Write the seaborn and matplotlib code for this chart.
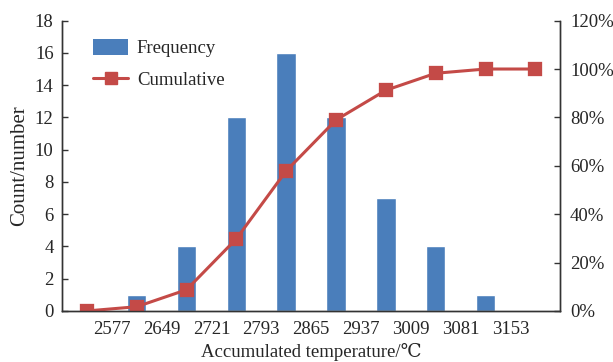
import matplotlib
matplotlib.use("Agg")
import matplotlib.pyplot as plt
import seaborn as sns
import pandas as pd
from matplotlib.patches import Patch
from matplotlib.lines import Line2D
from matplotlib.ticker import FuncFormatter

# ---- data ----
bins = ["<2577", "2577-2649", "2649-2721", "2721-2793", "2793-2865",
        "2865-2937", "2937-3009", "3009-3081", "3081-3153", ">3153"]
counts = [0, 1, 4, 12, 16, 12, 7, 4, 1, 0]
cumulative = [0.0, 1.75, 8.77, 29.82, 57.89, 78.95, 91.23, 98.25, 100.0, 100.0]
tick_labels = ["2577", "2649", "2721", "2793", "2865", "2937", "3009", "3081", "3153"]

df = pd.DataFrame({"bin": bins, "count": counts, "cum": cumulative})

bar_color = "#4a7ebb"
line_color = "#c44a47"

sns.set_style("white")
plt.rcParams["font.family"] = ["Liberation Serif", "DejaVu Serif"]
FS = 13.5
plt.rcParams["font.size"] = FS

fig = plt.figure(figsize=(6.13, 3.62), dpi=100)
ax = fig.add_axes([0.101, 0.141, 0.813, 0.802])

sns.barplot(data=df, x="bin", y="count", order=bins, color=bar_color,
            width=0.39, saturation=1, ax=ax)
ax2 = ax.twinx()
sns.pointplot(data=df, x="bin", y="cum", order=bins, color=line_color,
              markers="s", markersize=8.5, linewidth=2.2, ax=ax2)

ax.set_xlim(-0.5, 9.5)
ax.set_ylim(0, 18)
ax.set_yticks(range(0, 19, 2))
ax2.set_ylim(0, 120)
ax2.set_yticks(range(0, 121, 20))
ax2.yaxis.set_major_formatter(FuncFormatter(lambda v, p: f"{int(v)}%"))
ax2.set_ylabel("")

ax.set_xticks([i + 0.5 for i in range(len(tick_labels))])
ax.set_xticklabels(tick_labels)
ax2.set_xlim(-0.5, 9.5)

ax.set_xlabel("Accumulated temperature/\u2103", fontsize=FS, labelpad=4)
ax.set_ylabel("Count/number", fontsize=15, labelpad=4)

for a in (ax, ax2):
    for s in a.spines.values():
        s.set_color("#333333")
        s.set_linewidth(1.0)
    a.spines["top"].set_visible(False)
ax.tick_params(axis="x", direction="in", length=4, width=1, color="#333333", pad=7, labelsize=FS)
ax.tick_params(axis="y", direction="in", length=4, width=1, color="#333333", pad=6, labelsize=FS)
ax2.tick_params(axis="y", direction="in", length=4, width=1, color="#333333", pad=7, labelsize=FS)

handles = [Patch(facecolor=bar_color, edgecolor="none"),
           Line2D([], [], color=line_color, lw=2.2, marker="s", markersize=8.5)]
ax.legend(handles, ["Frequency", "Cumulative"], loc="upper left",
          bbox_to_anchor=(0.028, 0.995), frameon=False, fontsize=FS,
          handlelength=1.9, handleheight=0.9, handletextpad=0.45, labelspacing=0.72)

fig.savefig("out.png", dpi=100, facecolor="white")
